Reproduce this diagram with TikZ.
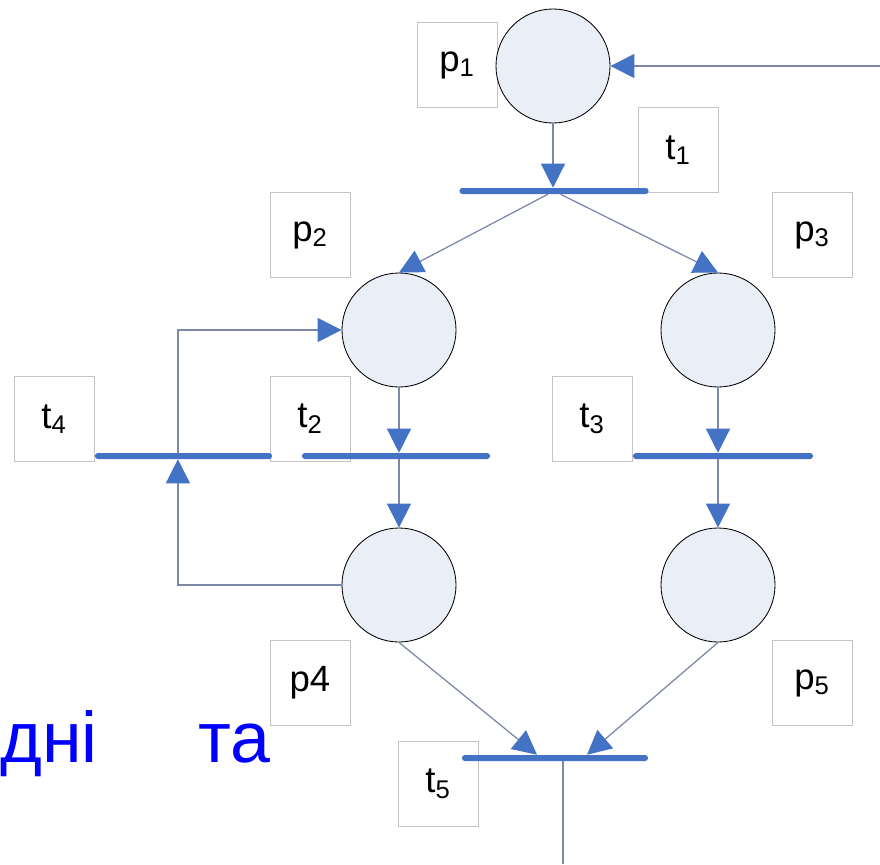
\documentclass[tikz,border=0pt]{standalone}
\usepackage{fontspec}
\setmainfont{Liberation Sans}
\usetikzlibrary{arrows.meta,positioning}
\definecolor{petblue}{HTML}{4472C4}
\definecolor{petarc}{HTML}{7B88A8}
\definecolor{petfill}{HTML}{E9EEF7}
\definecolor{petbox}{HTML}{C4C4C4}
\definecolor{petword}{HTML}{0000FF}
\tikzset{
  plc/.style={circle, draw=black, line width=0.6pt, fill=petfill, minimum size=2.85cm, inner sep=0pt},
  tag/.style={draw=petbox, line width=0.6pt, fill=white, minimum width=2cm, minimum height=2.125cm, inner sep=0pt, font=\fontsize{26}{30}\selectfont},
  bar/.style={fill=petblue, rounded corners=2pt, minimum height=0.15cm, inner sep=0pt},
  arc/.style={-{Triangle[length=6mm, width=6mm, color=petblue]}, draw=petarc, line width=0.9pt},
  wrd/.style={font=\fontsize{51}{60}\selectfont, text=petword, inner sep=0pt, anchor=base west},
}
\newcommand{\ix}[1]{\textsubscript{#1}}

\begin{document}
\begin{tikzpicture}[x=0.025cm, y=-0.025cm]
  \useasboundingbox (0,0) rectangle (880,864);
  % label boxes
  \node[tag] (lp1) at (457,65) {p\ix{1}};
  \node[tag] (lt1) at (678,150) {t\ix{1}};
  \node[tag] (lp2) at (310,235) {p\ix{2}};
  \node[tag] (lp3) at (812,235) {p\ix{3}};
  \node[tag] (lt4) at (54,419) {t\ix{4}};
  \node[tag] (lt2) at (310,419) {t\ix{2}};
  \node[tag] (lt3) at (592,419) {t\ix{3}};
  \node[tag] (lp4) at (310,683) {p4};
  \node[tag] (lp5) at (812,683) {p\ix{5}};
  \node[tag] (lt5) at (438,784) {t\ix{5}};
  % places
  \node[plc] (p1) at (553,66) {};
  \node[plc] (p2) at (399,330) {};
  \node[plc] (p3) at (718,330) {};
  \node[plc] (p4) at (399,585) {};
  \node[plc] (p5) at (718,585) {};
  % transitions
  \node[bar, minimum width=4.725cm] (t1) at (554,191) {};
  \node[bar, minimum width=4.425cm] (t4) at (183.5,456) {};
  \node[bar, minimum width=4.7cm] (t2) at (396,456) {};
  \node[bar, minimum width=4.5cm] (t3) at (723,456) {};
  \node[bar, minimum width=4.65cm] (t5) at (555,758) {};
  % arcs
  \coordinate (src) at (880,66);
  \coordinate (snk) at (563,864);
  \draw[arc] (src) -- (p1);
  \draw[arc] (p1) -- (p1 |- t1.north);
  \draw[arc] (t1) -- (p2.north);
  \draw[arc] (t1) -- (p3.north);
  \draw[arc] (p2) -- (p2 |- t2.north);
  \draw[arc] (p2 |- t2.south) -- (p4);
  \draw[arc] (p3) -- (p3 |- t3.north);
  \draw[arc] (p3 |- t3.south) -- (p5);
  \draw[arc] (p4.west) -| ([xshift=-0.14cm]t4.south);
  \draw[arc] ([xshift=-0.14cm]t4.north) |- (p2.west);
  \draw[arc] (p4.south) -- ([xshift=-0.45cm]t5.north);
  \draw[arc] (p5.south) -- ([xshift=0.8cm]t5.north);
  \draw[arc, -] (snk |- t5.south) -- (snk);
  % words
  \node[wrd] (w1) at (0,762) {дні};
  \node[wrd] (w2) at (198,762) {та};
\end{tikzpicture}
\end{document}
